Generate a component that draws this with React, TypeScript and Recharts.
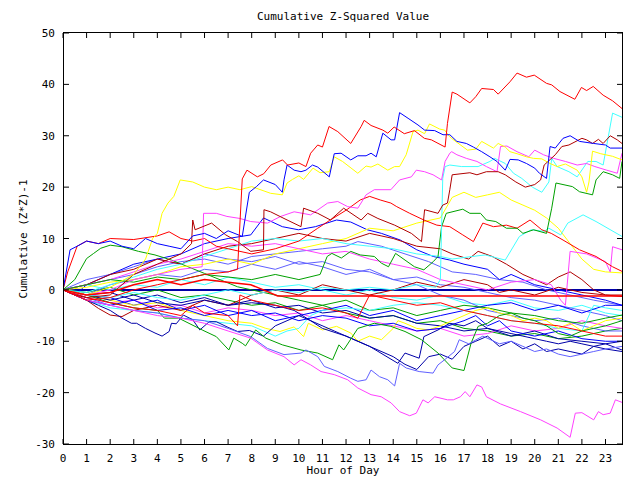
import React from "react";
import { LineChart, Line, XAxis, YAxis } from "recharts";

type Pt = [number, number];

// axes
const X_MAX = 23.7;
const HOUR_TICKS = [0, 1, 2, 3, 4, 5, 6, 7, 8, 9, 10, 11, 12, 13, 14, 15, 16, 17, 18, 19, 20, 21, 22, 23];
const VALUE_TICKS = [-30, -20, -10, 0, 10, 20, 30, 40, 50];

// colours of the old plotting palette
const RED = "#ff0000";
const DKRED = "#b00000";
const BLUE = "#0000ff";
const NAVY = "#0000a8";
const MBLUE = "#6060ff";
const YEL = "#ffff00";
const MAG = "#ff40ff";
const CYAN = "#40ffff";
const GRN = "#00a000";

// ── series: [hour, cumulative value] ───────────────────────────────────

const redTop: Pt[] = [[0,0],[0.5,-1],[1,-2],[2,-1.5],[3,0],[4,1],[5,2],[6,3],[7,3.5],[7.4,4],[7.6,21.6],[7.8,23.3],[8.24,22],[8.51,22.6],[8.81,24.3],[9.31,25.3],[9.52,24.3],[10.0,24.7],[10.3,24],[10.5,26.6],[10.8,28.2],[11.0,27.8],[11.28,31.8],[11.65,30.8],[12.2,28.5],[12.64,31.8],[12.77,33],[13.06,32],[13.56,31.1],[13.77,30.5],[14.04,31.7],[14.47,30.4],[14.9,31],[15.32,29.5],[15.62,29.2],[16.2,27.8],[16.3,32.4],[16.5,38.5],[16.7,38.1],[17.25,36.4],[17.5,37.6],[17.75,39.2],[18.25,39],[18.45,38.1],[18.95,40.5],[19.25,42.2],[19.65,41.4],[19.98,41.8],[20.5,40.2],[20.72,39.9],[21.07,38.6],[21.7,37.1],[21.98,39.4],[22.2,38.8],[22.48,39.6],[22.9,37.9],[23.3,36.8],[23.7,35.3]];

const blueTop: Pt[] = [[0,0],[0.1,2.5],[0.3,7.8],[0.6,8.5],[1,9.5],[1.5,9],[2,9.5],[2.5,8.5],[3,8],[3.5,10],[4,9],[4.5,8.5],[5,8],[5.5,10.5],[6,11],[6.5,10],[7,11.5],[7.6,10.4],[7.9,19],[8.2,20.1],[8.5,21.4],[9,20.5],[9.3,19],[9.37,21.4],[9.5,24.3],[9.8,23.3],[10.09,23],[10.3,23.3],[10.58,24.3],[10.8,23.9],[11.29,22],[11.5,26.5],[11.79,26.6],[12.2,25.3],[12.5,26.1],[12.85,26.1],[13.06,26.6],[13.28,25.9],[13.56,30.5],[13.91,29.2],[14.06,29.2],[14.27,34.5],[14.63,33.4],[15.05,32.1],[15.33,31.1],[15.76,31],[16.11,30.2],[16.4,30.2],[16.7,28.9],[17.1,28.5],[17.4,27.8],[17.75,26.9],[18.1,25.9],[18.4,25],[18.75,23.3],[18.95,25.4],[19.3,25.3],[19.65,24.6],[20.0,23.7],[20.2,22.7],[20.5,21.7],[20.65,27.9],[20.87,27.6],[21.2,29.5],[21.5,30],[21.9,28.9],[22.5,28.5],[23.0,28.2],[23.2,27.6],[23.7,27.6]];

const yellowTop: Pt[] = [[0,0],[1,-1],[2,0.5],[3,3],[3.5,6],[3.8,10],[4.0,11],[4.2,14.9],[4.45,16.9],[4.7,18.2],[4.97,21.4],[5.5,21],[6,20],[6.5,19.5],[7,20],[7.5,19.5],[8,20.1],[8.8,18.8],[9.3,18.5],[9.5,20.8],[9.73,21.5],[10.0,22.2],[10.2,21.5],[10.6,23.7],[10.9,22.8],[11.29,23],[11.5,25.9],[11.85,25],[12.5,22.7],[12.85,24.1],[13.06,23.9],[13.35,24.5],[13.77,23.3],[14.06,24],[14.27,24],[14.55,26.3],[14.84,30.8],[15.05,31.1],[15.33,30.4],[15.54,32.3],[15.97,31.3],[16.18,31.1],[16.4,29.8],[16.47,29.5],[17.15,27.2],[17.5,27.4],[17.75,28.9],[18.25,27.6],[18.45,28.5],[18.75,27.8],[18.95,26.9],[19.25,26.5],[19.65,25.9],[19.95,25.6],[20.3,25.5],[20.65,24.6],[20.95,24],[21.3,24.5],[21.8,23.3],[22.0,22],[22.2,19],[22.3,21],[22.45,27],[22.8,26.5],[23.3,26],[23.7,25.3]];

const dkRedTop: Pt[] = [[0,0],[0.5,-1],[1,-1.5],[2,-1],[2.5,1],[3,3],[4,5],[5,7],[5.45,9],[5.5,13.6],[5.6,11.7],[6.3,13],[6.9,10.7],[7.4,9.4],[7.96,7.5],[8.5,7.8],[8.52,15.6],[8.8,15.2],[9.37,13.9],[10.09,12.3],[10.2,15.9],[10.8,14.9],[11.34,13.6],[11.9,15.9],[12.64,13.6],[12.92,14.9],[13.35,13.9],[14.06,12.6],[14.77,11],[15.2,9.4],[15.33,15.6],[15.9,14.9],[16.1,16.5],[16.3,16.9],[16.4,19.5],[16.5,22.4],[17.25,22.8],[17.55,22.4],[17.95,23],[18.45,23],[18.75,22.4],[19.2,21],[19.6,20],[20.0,20.5],[20.25,21.4],[20.4,24.3],[20.87,26.3],[21.15,27.9],[21.45,28.2],[22.0,29.5],[22.2,29.2],[22.45,28.5],[22.7,29.3],[22.9,28.5],[23.2,30],[23.5,29.2],[23.7,28.5]];

const magentaUpper: Pt[] = [[0,0],[1,-1],[2,0],[3,2],[4,3],[5,4],[5.9,4.5],[5.96,14.9],[6.5,14.9],[6.95,14.3],[7.5,13.9],[7.96,13.3],[8.67,13],[9.23,14.3],[9.8,15.2],[10.5,14.6],[11.22,16.9],[11.65,17.2],[12.07,16.2],[12.5,15.9],[12.85,18.5],[13.2,19.5],[13.9,19.5],[14.27,21.4],[14.77,22],[14.98,23.3],[15.33,23],[15.69,22.4],[16.05,21.4],[16.2,25],[16.4,26.6],[16.48,26.9],[16.7,26.3],[17.1,25.6],[17.55,25],[17.95,24],[18.4,23],[18.55,27.9],[18.82,28],[19.25,26.9],[19.75,25.9],[20.0,27.2],[20.37,26.3],[20.8,25.6],[21.3,25],[21.8,24.3],[22.2,24.6],[22.55,24],[23.05,23.3],[23.5,22.7],[23.7,26.6]];

const cyanTop: Pt[] = [[0,0],[1,-1],[2,-1.5],[3,-0.5],[4,-1.5],[5,-2],[6,-1],[7,0],[8,-1],[9,0],[10,-0.5],[11,0.5],[12,0],[13,0.5],[14,0],[15,1],[15.8,0.5],[16.0,2],[16.1,21.7],[16.2,24],[16.4,24.3],[16.9,24],[17.6,24],[18.1,25],[18.3,25.6],[18.75,24.6],[19.1,22.7],[19.45,21.7],[19.9,20],[20.3,19],[20.6,21],[20.72,25.6],[20.95,24],[21.45,23],[21.8,22],[22.25,25],[22.6,25],[22.9,24.3],[23.3,34.4],[23.7,33.6]];

const greenUpper: Pt[] = [[0,0],[1,1],[2,2],[3,1.5],[4,2.5],[5,2],[6,3],[7,2.5],[8,2],[9,3],[10,2],[10.9,3],[11.2,6.5],[11.4,7.1],[11.8,6.2],[12.2,7.5],[12.6,6.8],[13.2,6.5],[13.5,5.2],[13.8,4.5],[14.1,7.1],[14.5,5.8],[14.9,4.5],[15.3,3.9],[15.7,5.5],[15.9,6.5],[16.05,12.3],[16.25,14.9],[16.95,15.7],[17.25,14.9],[17.7,14.9],[17.95,13.6],[18.35,13.3],[18.8,12],[19.25,12],[19.5,11],[19.95,11.7],[20.5,11],[20.72,15.9],[20.9,20.8],[21.6,20.1],[21.9,19.1],[22.45,18.5],[22.6,21.4],[22.9,23],[23.3,22.4],[23.6,21.7],[23.7,25]];

const redMid: Pt[] = [[0,0],[0.2,3.5],[0.6,8.5],[1,9.5],[1.5,9],[2,10],[3,9.8],[4,10.5],[4.5,11.3],[5,10],[5.5,9.5],[6,10],[6.5,8.5],[7,8],[8,7],[9,8],[10,9.5],[10.8,12],[11.3,13.5],[12.0,15.5],[12.6,17.5],[13.0,18.2],[13.45,17.5],[13.9,16.9],[14.15,16.2],[14.7,14.9],[15.3,13.6],[15.85,12.6],[16.4,12.3],[16.95,10.7],[17.4,9.4],[17.8,13],[18.25,12.3],[18.8,12.6],[19.25,12],[19.8,13.6],[20.3,11.7],[20.7,11],[21.2,9.7],[21.9,7.8],[22.6,6.5],[23.3,4.5],[23.7,3.6]];

const cyanMid: Pt[] = [[0,0],[1,-0.5],[2,1],[3,2.5],[4,4],[5,5],[6,6.5],[7,8],[8,9.5],[9,10],[10,9.5],[11,10],[12,9],[13,8.5],[14,8],[15,7],[16.0,6.5],[16.5,6],[17.35,6.5],[17.9,6.8],[18.75,5.8],[19.35,10.4],[19.85,11.7],[20.4,11.4],[20.6,12],[21.1,10.7],[21.4,13],[22.05,14.6],[22.6,13.3],[23.7,10.4]];

const magentaMid: Pt[] = [[0,0],[1,1],[2,2],[3,3.5],[4,5],[5,6],[6,7.5],[7,9],[8,8.5],[9,9],[10,8],[11,7],[12,7.5],[13,6],[14,5],[15,4],[16,2],[17,1],[18,0],[19,1.5],[20,2],[20.7,1],[21.1,-2],[21.3,-3],[21.5,7.5],[22.2,7],[23.0,5.5],[23.2,3.5],[23.3,8.4],[23.7,7.8]];

const blueUpper: Pt[] = [[0,0],[0.5,-1],[1,1],[2,3],[3,5],[4,6],[5,7],[6,9],[7,10],[7.96,10.7],[8.5,14],[9.3,12.3],[9.98,11.7],[10.7,12.3],[11.6,13.6],[12.2,13.2],[12.9,11.7],[13.5,11],[14.3,9.7],[15.0,7.8],[15.7,6.5],[16.4,5.8],[17,5],[18,4],[18.5,2],[19,3],[20,1],[21,0],[22,-1],[23,-2],[23.7,-3]];

const mblueUpper: Pt[] = [[0,0],[1,1],[2,2],[3,3],[4,4.5],[5,5.5],[6,6],[7,5],[8,6.5],[9,7],[10,7.5],[11,8],[12,8.5],[12.5,9.4],[13.5,8.5],[14.5,7],[15.5,5.5],[16.5,3.5],[17.5,3],[18.5,2],[19.5,1.5],[20.5,0],[21.5,-1],[22.5,-2],[23.7,-3]];

const redFlat: Pt[] = [[0,0],[1,-1],[2,-0.5],[3,1],[4,2],[5,1],[6,2],[7,1.5],[7.96,1],[8.5,0],[9.1,-1.2],[23.7,-1.2]];

const zeroLine: Pt[] = [[0,0],[23.7,0]];

const magentaLow: Pt[] = [[0,0],[1,-2],[2,-3],[3,-4],[4,-5],[5,-5.5],[6,-6.5],[7,-8],[7.96,-9.4],[8.67,-11.7],[9.37,-13],[9.8,-14.6],[10.09,-13.6],[10.5,-14.6],[10.94,-15.9],[11.5,-16.5],[12.07,-17.5],[12.5,-19.1],[13.06,-20.4],[13.49,-20.8],[13.91,-22],[14.27,-23.7],[14.7,-24.5],[14.98,-24],[15.26,-21.4],[15.48,-22],[15.76,-20.8],[16.3,-21.4],[16.55,-21.4],[16.85,-20.8],[17.05,-19.8],[17.25,-20.8],[17.55,-18.5],[17.75,-18.9],[17.95,-20.8],[18.55,-22.2],[19.4,-23.7],[20.25,-25.3],[20.95,-26.9],[21.5,-28.7],[21.72,-24],[22.0,-23.9],[22.5,-25.3],[22.7,-23.7],[22.9,-24.3],[23.2,-24],[23.42,-21.4],[23.7,-21.9]];

const mblueLow: Pt[] = [[0,0],[1,-1.5],[2,-3],[3,-4],[4,-4.5],[5,-5.5],[6,-6],[7,-7.5],[7.96,-9.1],[8.67,-11.4],[9.37,-12.6],[10.09,-12.3],[10.3,-11.7],[10.8,-13],[11.08,-14.9],[11.65,-15.9],[12.2,-17.2],[12.5,-17.8],[12.85,-17.5],[13.06,-15.6],[13.42,-16.9],[13.77,-17.5],[14.06,-18.7],[14.27,-14.3],[14.55,-15.2],[15.1,-15.9],[15.69,-16.2],[15.9,-14.6],[16.18,-13.6],[16.6,-12],[16.8,-9.7],[17.2,-10.5],[17.8,-9],[18.5,-10.5],[19.0,-10],[19.5,-11],[20.0,-12],[20.5,-11.5],[21.0,-12.5],[21.5,-13],[22,-12.5],[22.5,-12],[23,-11.5],[23.7,-11]];

const greenLow: Pt[] = [[0,0],[1,-1],[2,-2.5],[3,-3.5],[4,-4],[4.3,-5.5],[4.9,-5.5],[5.9,-7.8],[6.5,-9.1],[7.03,-11.7],[7.24,-9.4],[7.6,-10.4],[7.74,-10.9],[8.17,-7.8],[8.6,-9.4],[9.3,-10.7],[10.09,-11.7],[10.8,-12.3],[11.43,-13.6],[11.7,-10.7],[11.9,-11.7],[12.5,-7.5],[13.2,-6.5],[13.9,-7.1],[14.5,-8.1],[15.2,-9.7],[15.9,-12.3],[16.5,-15.2],[17.0,-15.7],[17.3,-10.4],[17.6,-7.1],[18,-6.5],[18.5,-5],[19,-4.5],[19.5,-5.5],[20,-6],[20.5,-7],[21,-8.5],[21.5,-9],[22,-8],[22.5,-7.5],[23,-7],[23.7,-6]];

const navyLow: Pt[] = [[0,0],[0.5,-1],[1,-2],[1.5,-3],[2,-4],[2.5,-5.5],[2.9,-6.5],[3.12,-6.5],[3.5,-7.5],[3.9,-8.4],[4.2,-9],[4.5,-8.1],[4.6,-6.5],[4.8,-6.6],[5.1,-4.9],[5.5,-5.8],[5.8,-7.8],[6.2,-6.2],[6.5,-6.2],[7.0,-7.3],[7.4,-8.1],[7.9,-7.9],[8.5,-9],[9,-7],[9.5,-6],[10,-5],[10.5,-6],[11,-7.5],[12,-9],[13,-11],[14,-13],[14.5,-14.5],[15,-15.5],[15.5,-13],[16,-12.5],[16.5,-13.5],[17,-11],[17.5,-10],[18,-9],[18.5,-11],[19,-10],[19.5,-11.5],[20,-10.5],[20.5,-12],[21,-11.5],[21.5,-12],[22,-12.5],[22.5,-11],[23,-11.5],[23.7,-12]];

const navyDiag: Pt[] = [[0,0],[1,-1],[2,-2],[3,-1],[4,-2.5],[5,-3],[6,-2],[7,-3],[8,-2.5],[9,-3],[9.8,-4],[10.5,-6],[11.5,-8],[12.2,-9.4],[13,-11],[14.2,-14.3],[14.5,-12.3],[15.1,-13.3],[15.3,-9.1],[15.9,-7.8],[16.4,-6.5],[17,-7],[17.5,-6],[18,-7.5],[18.5,-8],[19,-8.5],[19.5,-9],[20,-9.5],[20.5,-10],[21,-10.5],[21.5,-10],[22,-10.5],[22.5,-11],[23,-10.5],[23.7,-11.7]];

const blueLow: Pt[] = [[0,0],[1,-2],[2,-3],[3,-2],[4,-4],[5,-3.5],[6,-5],[7,-4],[8,-5],[9,-4.5],[10,-6],[11,-5],[12,-5.5],[13,-7],[14,-6.5],[15,-8],[16,-7.5],[17,-6],[17.5,-5],[18,-7],[18.5,-6],[19,-8],[20,-9],[21,-8],[22,-9.5],[23,-10],[23.7,-10]];

const dkRedMid: Pt[] = [[0,0],[1,-2],[1.5,-3.6],[2,-4.9],[2.5,-5.2],[3,-4],[4,-3],[5,-4],[6,-2],[7,-3],[8,-1],[9,0],[10,-1],[11,1],[12,0],[13,-1],[14,0],[15,1.5],[16,0.5],[17,2],[18,1],[18.5,-0.5],[19,0],[20,-1],[21,0.5],[22,-0.5],[23,-1],[23.7,-1.3]];

const dkRedHigh: Pt[] = [[0,0],[1,1],[2,3],[3,4],[4,6],[5,5],[6,7],[7,8.5],[8,9],[9,10],[10,11],[11,10],[12,9.5],[13,11],[14,10],[15,8.5],[16,8],[16.5,7],[17.2,6],[17.6,7.5],[18.2,6.5],[18.8,5],[19.5,3],[20,2],[20.5,1],[21,2.5],[21.5,3.5],[22,2],[22.5,0],[23,-1],[23.7,-1]];

const yellowMid: Pt[] = [[0,0],[1,0.5],[2,1.5],[3,2],[4,3],[5,4.5],[6,5],[7,6],[8,5],[9,7],[10,8],[11,9],[12,10],[13,12],[14,11.5],[15,13],[16,14],[16.5,18],[17,19],[17.5,18],[18,18.5],[18.5,19],[19,17.5],[19.5,16.5],[20,15.5],[20.5,14],[21,12],[21.5,9],[22,6],[22.5,4],[23,3.5],[23.7,3.3]];

const yellowLow: Pt[] = [[0,0],[1,-1],[2,-2],[3,-3],[4,-2.5],[5,-4],[6,-5],[7,-6],[8,-6.5],[8.6,-7.5],[9.2,-8.1],[9.8,-7.2],[10.2,-9.1],[10.4,-6.5],[11,-7.8],[11.6,-7.1],[12.2,-8.4],[12.5,-10],[13,-9],[13.5,-9.7],[14,-7.5],[14.2,-6],[14.5,-6.5],[15,-7.5],[15.5,-7.8],[16,-7],[16.5,-6],[17,-5],[17.5,-4],[18,-3.5],[18.5,-4.5],[19,-5],[19.5,-6],[20,-5.5],[20.5,-6],[21,-7.5],[21.5,-6.5],[22,-8],[22.5,-7],[23,-6],[23.7,-5.5]];

const cyanLow: Pt[] = [[0,0],[1,-2],[2,-3.5],[3,-4],[4,-4.5],[5,-5.5],[6,-6],[7,-6.5],[8,-7],[8.5,-8],[9,-9],[9.5,-8],[10,-7.5],[10.5,-5],[11,-4],[12,-3.5],[13,-4],[14,-3],[15,-2.5],[16,-3],[17,-4],[18,-5],[19,-6],[20,-6.5],[21,-7.5],[22,-8],[22.5,-3],[23,-3.5],[23.7,-4]];

const greenMid: Pt[] = [[0,0],[0.5,2],[1,6.1],[1.3,7.1],[1.6,8.1],[2,8.7],[2.5,8.4],[3.2,7.5],[3.9,6.8],[4.6,5.8],[5.3,4.5],[6,3.2],[6.7,1.9],[7.4,0.6],[8,0],[9,-1],[10,-2],[11,-3],[12,-2],[13,-4],[14,-3.5],[15,-5],[16,-4],[17,-3],[18,-3.5],[19,-4.5],[20,-5],[21,-6],[22,-6.5],[23,-5.5],[23.7,-4.9]];

const blueMid: Pt[] = [[0,0],[1,-1],[2,-1.5],[3,-3],[4,-2],[5,-4],[6,-3],[7,-5],[8,-4],[9,-6],[10,-5],[11,-4],[12,-3],[13,-5],[14,-4],[15,-6],[16,-5],[17,-4],[18,-3],[19,-2.5],[20,-4],[21,-3],[22,-4.5],[23,-3],[23.7,-3]];

const mblueMid: Pt[] = [[0,0],[1,-1],[2,1],[3,2],[4,3],[5,2.5],[6,4],[7,3.5],[8,5],[9,4],[10,5.5],[11,4.5],[12,3],[13,4],[14,2],[15,1],[16,-1],[17,-2],[18,-4],[19,-5],[20,-6],[21,-5.5],[22,-7],[23,-8],[23.7,-8]];

const mblueHigh: Pt[] = [[0,0],[1,2],[2,3],[3,4.5],[4,6],[5,5],[6,7],[7,6],[8,5.5],[9,6.5],[10,5],[11,5.5],[12,4],[13,3.5],[14,2],[15,2.5],[16,1],[17,0.5],[18,-0.5],[19,-1.5],[20,-2],[21,-3],[22,-4],[23,-5],[23.7,-6]];

const redLow: Pt[] = [[0,0],[1,-1.5],[2,-2.5],[3,-3.5],[4,-4],[5,-5],[5.5,-3],[6,-4.5],[7,-5],[7.4,-7],[7.5,-1],[8,-2],[9,-3],[10,-4],[11,-3.5],[12,-4.5],[12.5,-5.5],[13,-1],[14,-2],[15,-3],[16,-2.5],[17,-4],[18,-5],[19,-6],[20,-6.5],[21,-7],[22,-8],[23,-9],[23.7,-9]];

const magentaClu: Pt[] = [[0,0],[1,-1.5],[2,-2.5],[3,-2],[4,-3.5],[5,-3],[6,-4.5],[7,-3.5],[8,-4],[9,-5],[10,-4.5],[11,-6],[12,-5],[13,-6],[14,-7],[15,-8],[16,-7.5],[17,-9],[18,-8.5],[19,-7],[20,-8],[21,-7.5],[22,-6],[23,-7],[23.7,-7.5]];

const cyanClu: Pt[] = [[0,0],[1,1],[2,0],[3,1],[4,0.5],[5,2],[6,1],[7,2.5],[8,1.5],[9,0.5],[10,1],[11,0],[12,-1],[13,0],[14,-1.5],[15,-2],[16,-1],[17,-2.5],[18,-3],[19,-2],[20,-3.5],[21,-4],[22,-3],[23,-4.5],[23.7,-5]];

const greenClu: Pt[] = [[0,0],[1,-0.5],[2,0.5],[3,-1],[4,0],[5,-1.5],[6,-1],[7,-2],[8,-3],[9,-2.5],[10,-4],[11,-3],[12,-4.5],[13,-5.5],[14,-5],[15,-6.5],[16,-6],[17,-7.5],[18,-8],[19,-9],[20,-8.5],[21,-9.5],[22,-9],[23,-8],[23.7,-7.5]];

const navyClu: Pt[] = [[0,0],[1,-1],[2,-0.5],[3,-2],[4,-1],[5,-2.5],[6,-1.5],[7,-3],[8,-2],[9,-3.5],[10,-3],[11,-4.5],[12,-4],[13,-5.5],[14,-5],[15,-6.5],[16,-7],[17,-8],[18,-7.5],[19,-9],[20,-8],[21,-9.5],[22,-10],[23,-10.5],[23.7,-10]];

const SERIES: { id: string; color: string; width?: number; pts: Pt[] }[] = [
  { id: "zeroLine", color: NAVY, width: 2, pts: zeroLine },
  { id: "cyanClu", color: CYAN, pts: cyanClu },
  { id: "greenClu", color: GRN, pts: greenClu },
  { id: "magentaClu", color: MAG, pts: magentaClu },
  { id: "navyClu", color: NAVY, pts: navyClu },
  { id: "mblueHigh", color: MBLUE, pts: mblueHigh },
  { id: "mblueMid", color: MBLUE, pts: mblueMid },
  { id: "mblueUpper", color: MBLUE, pts: mblueUpper },
  { id: "blueMid", color: BLUE, pts: blueMid },
  { id: "blueUpper", color: BLUE, pts: blueUpper },
  { id: "greenMid", color: GRN, pts: greenMid },
  { id: "cyanLow", color: CYAN, pts: cyanLow },
  { id: "yellowLow", color: YEL, pts: yellowLow },
  { id: "yellowMid", color: YEL, pts: yellowMid },
  { id: "dkRedHigh", color: DKRED, pts: dkRedHigh },
  { id: "dkRedMid", color: DKRED, pts: dkRedMid },
  { id: "blueLow", color: BLUE, pts: blueLow },
  { id: "navyDiag", color: NAVY, pts: navyDiag },
  { id: "navyLow", color: NAVY, pts: navyLow },
  { id: "greenLow", color: GRN, pts: greenLow },
  { id: "mblueLow", color: MBLUE, pts: mblueLow },
  { id: "magentaLow", color: MAG, pts: magentaLow },
  { id: "redLow", color: RED, pts: redLow },
  { id: "magentaMid", color: MAG, pts: magentaMid },
  { id: "cyanMid", color: CYAN, pts: cyanMid },
  { id: "redMid", color: RED, pts: redMid },
  { id: "greenUpper", color: GRN, pts: greenUpper },
  { id: "cyanTop", color: CYAN, pts: cyanTop },
  { id: "magentaUpper", color: MAG, pts: magentaUpper },
  { id: "dkRedTop", color: DKRED, pts: dkRedTop },
  { id: "yellowTop", color: YEL, pts: yellowTop },
  { id: "blueTop", color: BLUE, pts: blueTop },
  { id: "redTop", color: RED, pts: redTop },
  { id: "redFlat", color: RED, width: 1.5, pts: redFlat },
];

const FONT = "'DejaVu Sans Mono', monospace";
const PLOT = { left: 63, right: 622, top: 33, bottom: 444 };

function HourTick(props: any) {
  const { x, payload } = props;
  return (
    <g>
      <line x1={x} x2={x} y1={PLOT.bottom} y2={PLOT.bottom - 5} stroke="#000" />
      <line x1={x} x2={x} y1={PLOT.top} y2={PLOT.top + 5} stroke="#000" />
      <text x={x} y={462} textAnchor="middle" fontFamily={FONT} fontSize={11} fill="#000">
        {payload.value}
      </text>
    </g>
  );
}

function ValueTick(props: any) {
  const { y, payload } = props;
  return (
    <g>
      <line x1={PLOT.left} x2={PLOT.left + 6} y1={y} y2={y} stroke="#000" />
      <line x1={PLOT.right - 5} x2={PLOT.right} y1={y} y2={y} stroke="#000" />
      <text x={55} y={y + 4} textAnchor="end" fontFamily={FONT} fontSize={11} fill="#000">
        {payload.value}
      </text>
    </g>
  );
}

export default function App() {
  return (
    <div style={{ position: "absolute", left: 0, top: 0, width: 640, height: 480, background: "#fff" }}>
      <LineChart width={640} height={480} margin={{ top: 33, right: 18, bottom: 0, left: 0 }}>
        <XAxis
          type="number"
          dataKey="h"
          domain={[0, X_MAX]}
          ticks={HOUR_TICKS}
          interval={0}
          allowDataOverflow
          height={36}
          axisLine={false}
          tickLine={false}
          tick={(p: any) => <HourTick {...p} />}
        />
        <YAxis
          type="number"
          domain={[-30, 50]}
          ticks={VALUE_TICKS}
          interval={0}
          allowDataOverflow
          width={63}
          axisLine={false}
          tickLine={false}
          tick={(p: any) => <ValueTick {...p} />}
        />
        {SERIES.map((s) => (
          <Line
            key={s.id}
            name={s.id}
            data={s.pts.map(([h, v]) => ({ h, v }))}
            dataKey="v"
            type="linear"
            stroke={s.color}
            strokeWidth={s.width ?? 1}
            dot={false}
            activeDot={false}
            isAnimationActive={false}
          />
        ))}
      </LineChart>
      <svg width={640} height={480} style={{ position: "absolute", left: 0, top: 0, pointerEvents: "none" }}>
        <rect
          x={PLOT.left + 0.5}
          y={PLOT.top - 0.5}
          width={PLOT.right - PLOT.left - 0.5}
          height={PLOT.bottom - PLOT.top + 0.5}
          fill="none"
          stroke="#000"
          shapeRendering="crispEdges"
        />
        <text x={343} y={20} textAnchor="middle" fontFamily={FONT} fontSize={11} fill="#000">
          Cumulative Z-Squared Value
        </text>
        <text x={343} y={474} textAnchor="middle" fontFamily={FONT} fontSize={11} fill="#000">
          Hour of Day
        </text>
        <text
          x={0}
          y={0}
          transform="translate(27,239) rotate(-90)"
          textAnchor="middle"
          fontFamily={FONT}
          fontSize={11}
          fill="#000"
        >
          Cumulative (Z*Z)-1
        </text>
      </svg>
    </div>
  );
}
